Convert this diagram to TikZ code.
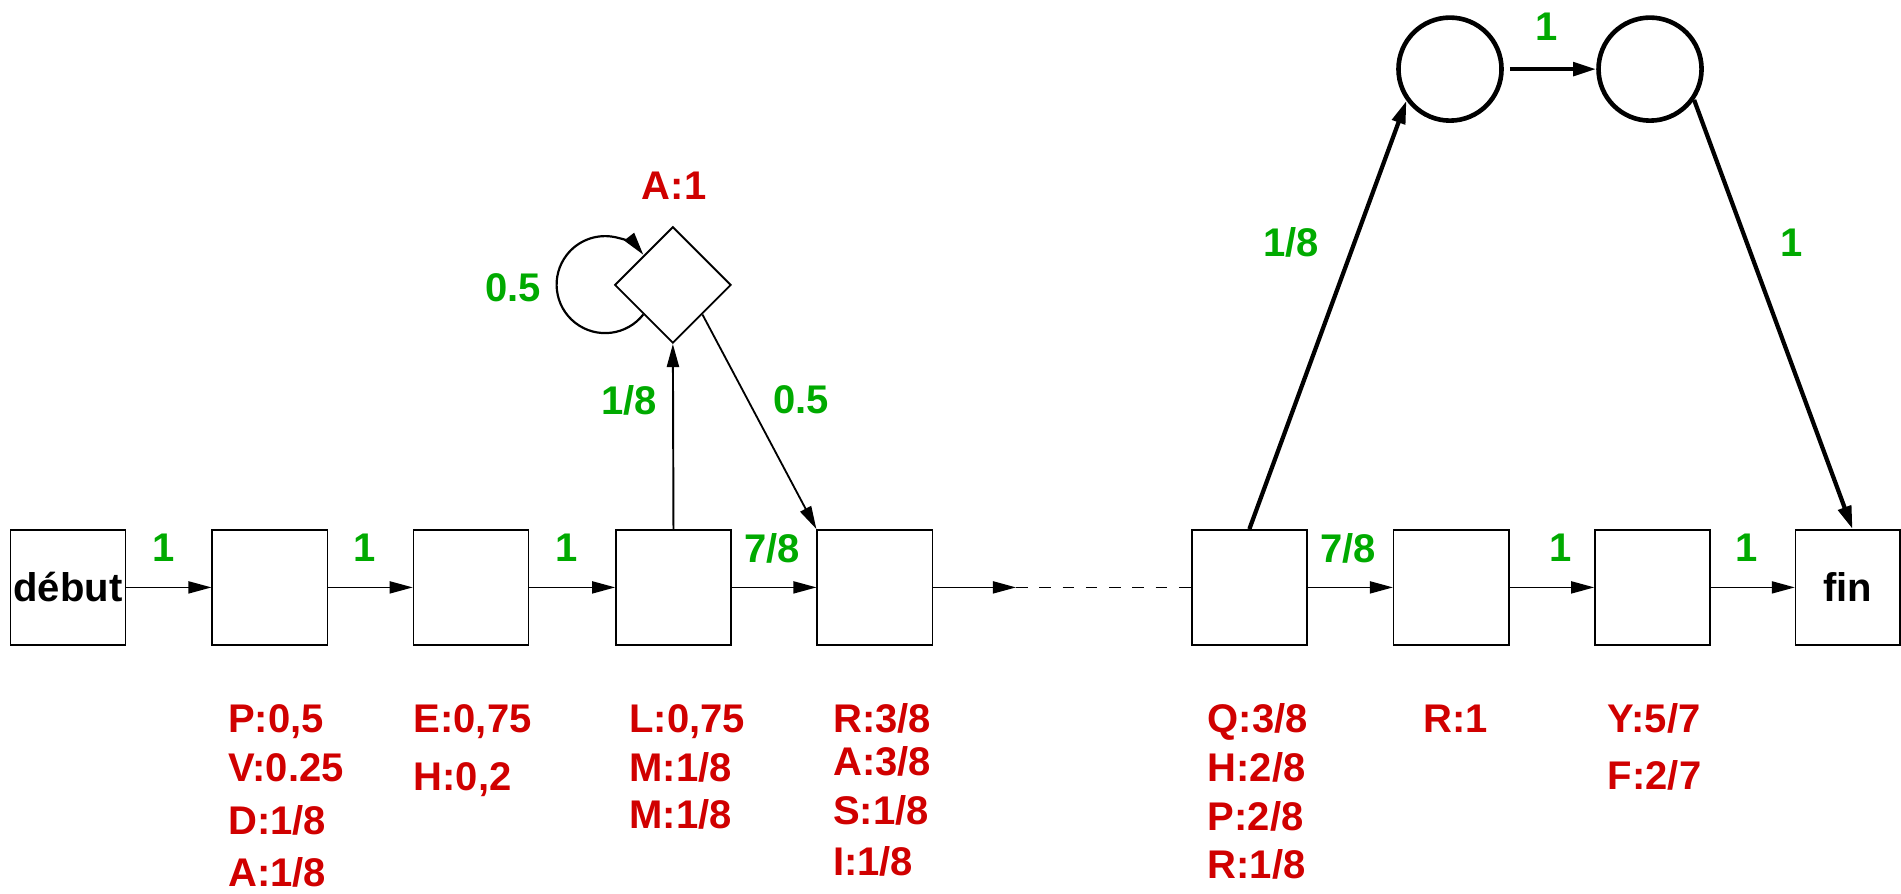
\documentclass[tikz,border=0pt]{standalone}
\usepackage{fontspec}
\setmainfont{Liberation Sans}
\usetikzlibrary{shapes.geometric,arrows.meta,calc}
\definecolor{lblred}{RGB}{208,0,0}
\definecolor{lblgreen}{RGB}{0,170,0}
\begin{document}
\begin{tikzpicture}[x=1pt,y=-1pt,
  lblfont/.style={font=\fontsize{33}{40}\selectfont\bfseries},
  box/.style={draw, line width=1.2pt, minimum width=95pt, minimum height=95pt, inner sep=0pt, lblfont},
  arr/.style={-{Triangle[length=19pt,width=10pt]}, line width=1.2pt},
  thk/.style={-{Triangle[length=19pt,width=11pt]}, line width=3.5pt},
  ring/.style={circle, draw, line width=3.8pt, minimum size=85pt, inner sep=0pt},
  gl/.style={text=lblgreen, lblfont, inner sep=0pt},
  rl/.style={text=lblred, lblfont, inner sep=0pt, anchor=base west},
]
\useasboundingbox (0,0) rectangle (1568,737);

% chain of states
\node[box] (b0) at (56,484.5) {début};
\node[box] (b1) at (222.5,484.5) {};
\node[box] (b2) at (388.5,484.5) {};
\node[box] (b3) at (555.5,484.5) {};
\node[box] (b4) at (721.5,484.5) {};
\node[box] (bq) at (1030.5,484.5) {};
\node[box] (br) at (1197,484.5) {};
\node[box] (by) at (1363,484.5) {};
\node[box, minimum width=86pt] (fin) at (1524,484.5) {fin};
\coordinate (gap) at (838,484.5);

% insert state and the two circles
\node[diamond, draw, line width=1.5pt, minimum size=96pt, inner sep=0pt, aspect=1] (dia) at (555,235) {};
\node[ring] (c1) at (1196,57) {};
\node[ring] (c2) at (1361,57) {};

% connectors
\draw[arr] (b0) -- (b1);
\draw[arr] (b1) -- (b2);
\draw[arr] (b2) -- (b3);
\draw[arr] (b3) -- (b4);
\draw[arr] (b4) -- (gap);
\draw[line width=1.2pt, dash pattern=on 9.6pt off 9.6pt] (gap) -- (bq.west);
\draw[arr] (bq) -- (br);
\draw[arr] (br) -- (by);
\draw[arr] (by) -- (fin);
\draw[arr, line width=1.6pt] (b3.north) -- (dia.south);
\draw[arr, line width=1.5pt] (dia.south east) -- (b4.north west);
\draw[arr, line width=1.8pt] (dia.south west) arc[start angle=-38, end angle=-322, radius=40pt];
\draw[thk] (bq.north) -- (c1.216);
\draw[thk, shorten <=5pt] (c1) -- (c2);
\draw[thk] (c2.-35) -- ([xshift=4pt]fin.north);

% transition probabilities
\node[gl] at (135,452) {1};
\node[gl] at (301,452) {1};
\node[gl] at (467,452) {1};
\node[gl] at (637,452) {7/8};
\node[gl] at (1112,452) {7/8};
\node[gl] at (1287,452) {1};
\node[gl] at (1441,452) {1};
\node[gl] at (519,330) {1/8};
\node[gl] at (661,330) {0.5};
\node[gl] at (423,237) {0.5};
\node[gl] at (1065,200) {1/8};
\node[gl] at (1276,22) {1};
\node[gl] at (1478,200) {1};

% emission probabilities
\node[text=lblred, lblfont, inner sep=0pt] at (556,153) {A:1};
\node[rl] at (188,604) {P:0,5};
\node[rl] at (188,645) {V:0.25};
\node[rl] at (188,688) {D:1/8};
\node[rl] at (188,731) {A:1/8};
\node[rl] at (341,604) {E:0,75};
\node[rl] at (341,652) {H:0,2};
\node[rl] at (519,604) {L:0,75};
\node[rl] at (519,645) {M:1/8};
\node[rl] at (519,683) {M:1/8};
\node[rl] at (687,604) {R:3/8};
\node[rl] at (687,640) {A:3/8};
\node[rl] at (687,680) {S:1/8};
\node[rl] at (687,722) {I:1/8};
\node[rl] at (996,604) {Q:3/8};
\node[rl] at (996,645) {H:2/8};
\node[rl] at (996,685) {P:2/8};
\node[rl] at (996,725) {R:1/8};
\node[rl] at (1174,604) {R:1};
\node[rl] at (1326,604) {Y:5/7};
\node[rl] at (1326,651) {F:2/7};
\end{tikzpicture}
\end{document}
